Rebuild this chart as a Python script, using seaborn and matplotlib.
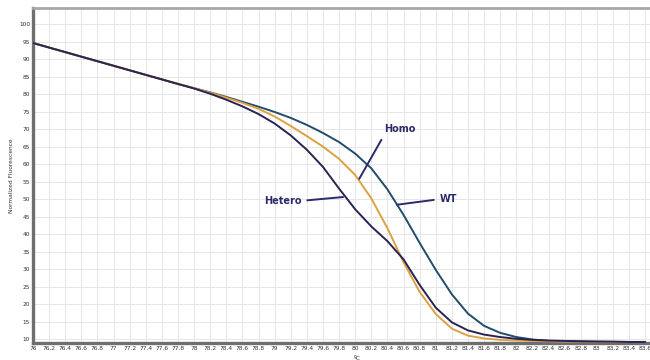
import matplotlib
matplotlib.use("Agg")
import matplotlib.pyplot as plt
import pandas as pd
import seaborn as sns

# Melting temperatures (°C)
temps = [76.0, 76.2, 76.4, 76.6, 76.8, 77.0, 77.2, 77.4, 77.6, 77.8,
         78.0, 78.2, 78.4, 78.6, 78.8, 79.0, 79.2, 79.4, 79.6, 79.8,
         80.0, 80.2, 80.4, 80.6, 80.8, 81.0, 81.2, 81.4, 81.6, 81.8,
         82.0, 82.2, 82.4, 82.6, 82.8, 83.0, 83.2, 83.4, 83.6]

# Normalized fluorescence for each genotype
wt = [94.6, 93.3, 92.0, 90.7, 89.4, 88.1, 86.8, 85.5, 84.2, 82.9,
      81.7, 80.5, 79.2, 77.8, 76.4, 74.9, 73.2, 71.2, 68.9, 66.3,
      63.0, 58.8, 52.8, 45.5, 37.5, 29.8, 22.8, 17.3, 13.8, 11.8,
      10.6, 9.9, 9.5, 9.4, 9.3, 9.3, 9.2, 9.2, 9.2]
homo = [94.6, 93.3, 92.0, 90.7, 89.4, 88.1, 86.8, 85.5, 84.2, 82.9,
        81.7, 80.4, 79.0, 77.5, 75.8, 73.6, 70.9, 68.0, 65.0, 61.5,
        56.9, 50.2, 41.7, 32.0, 23.5, 17.2, 13.0, 11.0, 10.2, 9.8,
        9.6, 9.5, 9.4, 9.3, 9.3, 9.2, 9.2, 9.2, 9.2]
hetero = [94.6, 93.3, 92.0, 90.7, 89.4, 88.1, 86.8, 85.5, 84.2, 82.9,
          81.6, 80.1, 78.4, 76.5, 74.3, 71.6, 68.2, 64.1, 59.2, 53.0,
          47.1, 42.2, 38.0, 32.8, 25.5, 19.0, 14.8, 12.5, 11.3, 10.6,
          10.1, 9.8, 9.6, 9.5, 9.4, 9.3, 9.3, 9.2, 9.2]

x_ticks = [76.0, 76.2, 76.4, 76.6, 76.8, 77.0, 77.2, 77.4, 77.6, 77.8,
           78.0, 78.2, 78.4, 78.6, 78.8, 79.0, 79.2, 79.4, 79.6, 79.8,
           80.0, 80.2, 80.4, 80.6, 80.8, 81.0, 81.2, 81.4, 81.6, 81.8,
           82.0, 82.2, 82.4, 82.6, 82.8, 83.0, 83.2, 83.4, 83.6]
y_ticks = [10, 15, 20, 25, 30, 35, 40, 45, 50, 55,
           60, 65, 70, 75, 80, 85, 90, 95, 100]

df = pd.concat([
    pd.DataFrame({"temp": temps, "fluor": wt, "sample": "WT"}),
    pd.DataFrame({"temp": temps, "fluor": homo, "sample": "Homo"}),
    pd.DataFrame({"temp": temps, "fluor": hetero, "sample": "Hetero"}),
])

palette = {"WT": "#224c6c", "Homo": "#dca142", "Hetero": "#2a2252"}

sns.set_theme(style="white")
plt.rcParams["font.family"] = ["DejaVu Sans"]

fig = plt.figure(figsize=(6.5, 3.6), dpi=100)
ax = fig.add_axes([33 / 650, 17 / 360, 1 - 33 / 650, 335 / 360])

sns.lineplot(data=df, x="temp", y="fluor", hue="sample", palette=palette,
             linewidth=1.4, legend=False, ax=ax, zorder=3)

ax.set_xlim(76.0, 83.66)
ax.set_ylim(8.9, 104.6)
ax.set_xticks(x_ticks)
ax.set_xticklabels([f"{t:g}" for t in x_ticks])
ax.set_yticks(y_ticks)
ax.tick_params(axis="both", length=0, labelsize=4.2, colors="#333333", pad=2)

ax.grid(True, color="#e6e6e6", linewidth=0.7, zorder=0)

for side in ("left", "bottom"):
    ax.spines[side].set_color("#6e6e6e")
    ax.spines[side].set_linewidth(2.4)
ax.spines["top"].set_color("#a8a8a8")
ax.spines["top"].set_linewidth(2.0)
ax.spines["right"].set_visible(False)

ax.set_xlabel("ºC", fontsize=4.2, color="#333333", labelpad=0)
ax.xaxis.set_label_coords(0.525, -0.04)
ax.set_ylabel("Normalized Fluorescence", fontsize=4.2, color="#333333", labelpad=4)

# Sample callouts: label text, point on curve, text anchor, alignment, line start on text box
label_color = "#2b2a6b"
callouts = [
    ("Homo", (80.05, 55.8), (80.56, 70.0), "center", (0.0, 0.0)),
    ("Hetero", (79.85, 50.6), (79.33, 49.5), "right", (1.0, 0.5)),
    ("WT", (80.52, 48.4), (81.05, 50.0), "left", (0.0, 0.5)),
]
for text, tip, pos, ha, rel in callouts:
    ax.annotate(text, xy=tip, xytext=pos, ha=ha, va="center",
                fontsize=7, fontweight="bold", color=label_color,
                arrowprops=dict(arrowstyle="-", color=label_color, lw=1.4,
                                shrinkA=2, shrinkB=0, relpos=rel),
                zorder=5)

fig.savefig("out.png", dpi=100)
